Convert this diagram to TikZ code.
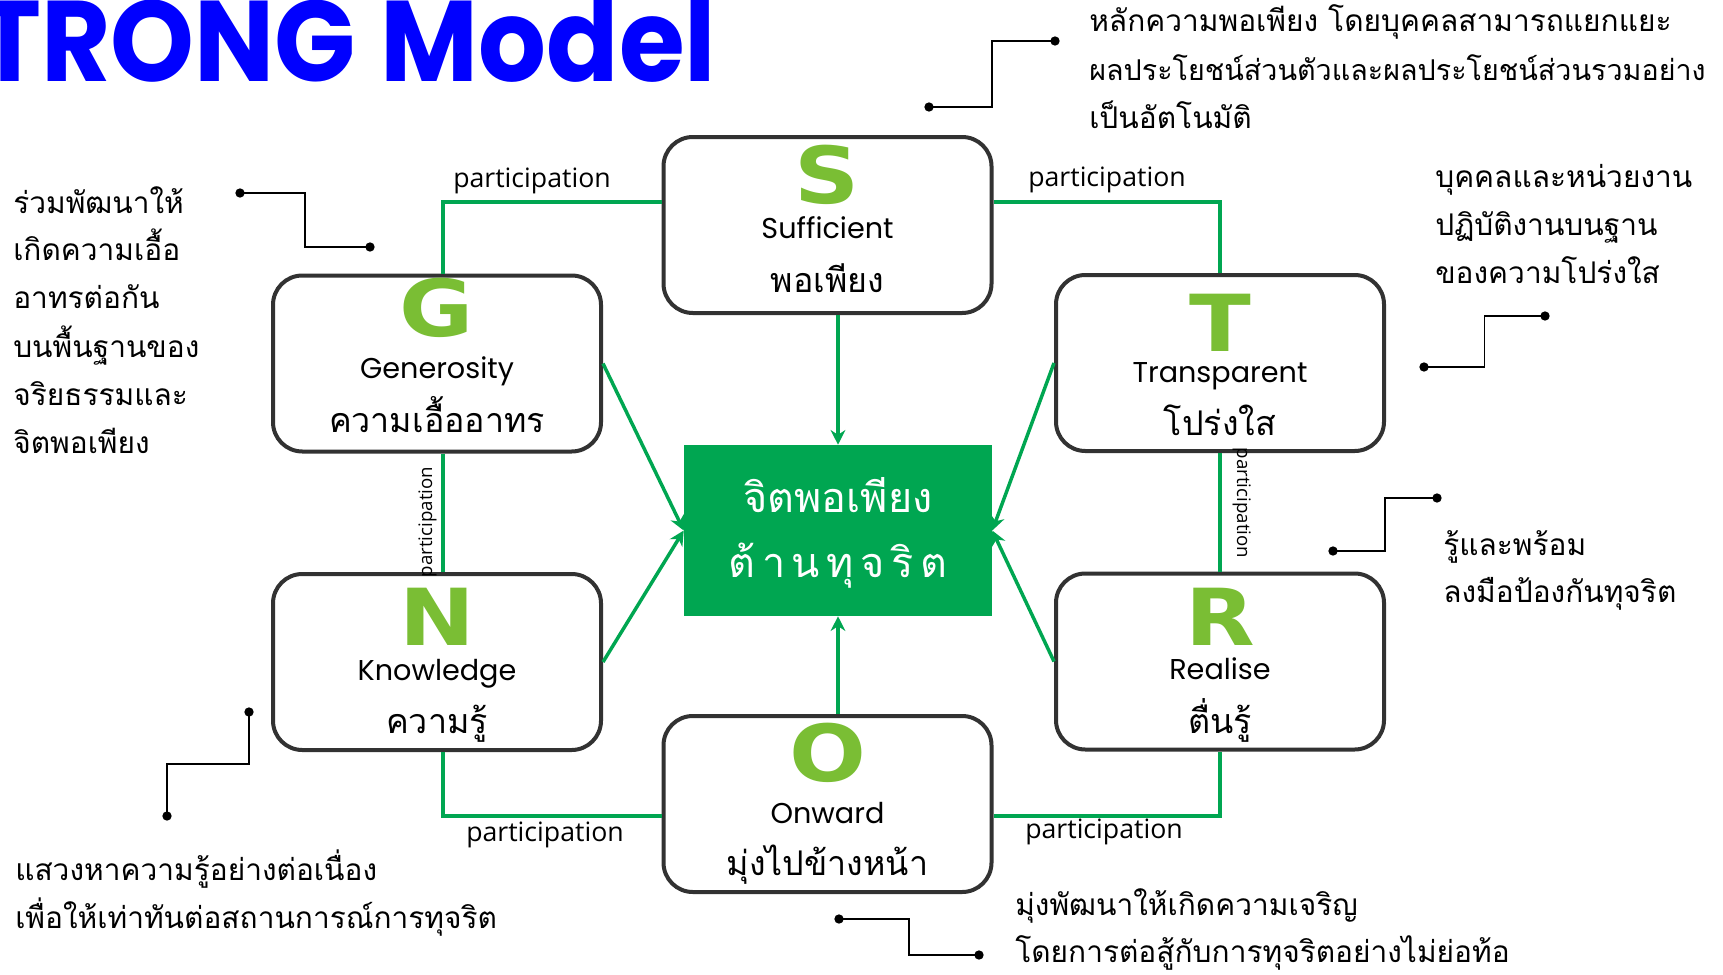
\documentclass[tikz,border=0pt]{standalone}
\usepackage{fontspec}
\setmainfont{Poppins}
\newfontfamily\thaifont[Script=Thai]{Loma}
\newfontfamily\letterfont{DejaVu Sans}
\newfontfamily\labelfont{Open Sans}
\newfontfamily\titlefont{Poppins}
\usetikzlibrary{arrows.meta,calc}
\definecolor{sgreen}{RGB}{0,166,81}
\definecolor{lgreen}{RGB}{122,190,52}
\definecolor{boxline}{RGB}{50,50,50}
\definecolor{tblue}{RGB}{0,0,255}
\begin{document}
\begin{tikzpicture}[x=0.75pt,y=-0.75pt,
  card/.style={draw=boxline,line width=3pt,rounded corners=22pt,fill=white,minimum width=246pt,minimum height=132pt,inner sep=0pt},
  core/.style={fill=sgreen,minimum width=231pt,minimum height=128.25pt,inner sep=0pt},
  bigl/.style={font=\letterfont\bfseries\fontsize{59}{59}\selectfont,text=lgreen,anchor=base,inner sep=0pt,xscale=1.15},
  eng/.style={font=\fontsize{21.5}{21.5}\selectfont,anchor=base,inner sep=0pt},
  tha/.style={font=\thaifont\fontsize{25.5}{25.5}\selectfont,anchor=base,inner sep=0pt},
  ctha/.style={font=\thaifont\fontsize{31}{31}\selectfont,text=white,anchor=base,inner sep=0pt},
  ann/.style={font=\thaifont\fontsize{22.4}{22.4}\selectfont,anchor=base west,inner sep=0pt},
  part/.style={font=\labelfont\fontsize{20}{20}\selectfont,anchor=base,inner sep=0pt},
  vpart/.style={font=\labelfont\fontsize{14}{14}\selectfont,anchor=base,inner sep=0pt},
  link/.style={draw=sgreen,line width=2.6pt},
  arr/.style={link,-{Stealth[length=11pt,width=11pt]}},
  callout/.style={draw=black,line width=1.1pt},
  dot/.style={circle,fill=black,inner sep=0pt,minimum size=7pt}
]
\fill[white] (0,0) rectangle (1723,974);
\useasboundingbox (0,0) rectangle (1723,974);

% title
\node[font=\titlefont\bfseries\fontsize{86}{86}\selectfont,text=tblue,anchor=base west,inner sep=0pt,xscale=0.93] (title) at (-22,82) {TRONG\hspace{20pt}Model};

% boxes
\node[card] (S) at (827.5,225) {};
\node[card] (G) at (437,363.5) {};
\node[card] (T) at (1220,363) {};
\node[card] (N) at (437,662) {};
\node[card] (R) at (1220,661.5) {};
\node[card] (O) at (827.5,804) {};
\node[core] (C) at (838,530.5) {};

% box contents
\node[bigl] (Sl) at (827.5,203) {S};
\node[eng] (Se) at (827.5,238) {Sufficient};
\node[tha] (St) at (827.5,292) {พอเพียง};
\node[bigl] (Gl) at (437,336) {G};
\node[eng] (Ge) at (437,378) {Generosity};
\node[tha] (Gt) at (437,432) {ความเอื้ออาทร};
\node[bigl] (Tl) at (1220,351) {T};
\node[eng] (Te) at (1220,382) {Transparent};
\node[tha] (Tt) at (1220,435) {โปร่งใส};
\node[bigl] (Nl) at (437,645) {N};
\node[eng] (Ne) at (437,680) {Knowledge};
\node[tha] (Nt) at (437,733) {ความรู้};
\node[bigl] (Rl) at (1220,645) {R};
\node[eng] (Re) at (1220,679) {Realise};
\node[tha] (Rt) at (1220,733) {ตื่นรู้};
\node[bigl] (Ol) at (827.5,781) {O};
\node[eng] (Oe) at (827.5,823) {Onward};
\node[tha] (Ot) at (827.5,875) {มุ่งไปข้างหน้า};

% core text
\node[ctha] (C1) at (838,512) {จิตพอเพียง};
\node[ctha] (C2) at (838,577) {ต้\kern5pt า\kern5pt น\kern5pt ทุ\kern5pt จ\kern5pt ริ\kern5pt ต};

% participation links
\coordinate (Gtop) at ($(G.north)+(6,0)$);
\coordinate (Gbot) at ($(G.south)+(6,0)$);
\coordinate (Ntop) at ($(N.north)+(6,0)$);
\coordinate (Nbot) at ($(N.south)+(6,0)$);
\draw[link] (S.west |- 0,202) -| (Gtop);
\draw[link] (S.east |- 0,202) -| (T.north);
\draw[link] (Gbot) -- (Ntop);
\draw[link] (T.south) -- (R.north);
\draw[link] (Nbot) |- (O.west |- 0,816);
\draw[link] (R.south) |- (O.east |- 0,816);

% arrows to the core
\draw[arr] (S.south -| C.north) -- (C.north);
\draw[arr] (O.north -| C.south) -- (C.south);
\draw[arr] (G.east) -- (C.west);
\draw[arr] (N.east) -- (C.west);
\draw[arr] (T.west) -- (C.east);
\draw[arr] (R.west) -- (C.east);

% participation labels
\node[part] (p1) at (532,187) {participation};
\node[part] (p2) at (1107,186) {participation};
\node[part] (p3) at (545,841) {participation};
\node[part] (p4) at (1104,838) {participation};
\node[vpart,rotate=90] (p5) at (432,522) {participation};
\node[vpart,rotate=-90] (p6) at (1237,503) {participation};

% callouts
\node[dot] (d1a) at (1055,41) {};
\node[dot] (d1b) at (929,107) {};
\draw[callout] (d1a.center) -| ($(d1a)!0.5!(d1b)$) |- (d1b.center);
\node[dot] (d2a) at (240,193) {};
\node[dot] (d2b) at (370,247) {};
\draw[callout] (d2a.center) -| ($(d2a)!0.5!(d2b)$) |- (d2b.center);
\node[dot] (d3a) at (1545,316) {};
\node[dot] (d3b) at (1424,367) {};
\draw[callout] (d3a.center) -| ($(d3a)!0.5!(d3b)$) |- (d3b.center);
\node[dot] (d4a) at (1437,498) {};
\node[dot] (d4b) at (1333,551) {};
\draw[callout] (d4a.center) -| ($(d4a)!0.5!(d4b)$) |- (d4b.center);
\node[dot] (d5a) at (249,712) {};
\node[dot] (d5b) at (167,816) {};
\draw[callout] (d5a.center) |- ($(d5a)!0.5!(d5b)$) -| (d5b.center);
\node[dot] (d6a) at (839,919) {};
\node[dot] (d6b) at (979,955) {};
\draw[callout] (d6a.center) -| ($(d6a)!0.5!(d6b)$) |- (d6b.center);

% annotations
\node[ann] (a1a) at (1089,32) {หลักความพอเพียง โดยบุคคลสามารถแยกแยะ};
\node[ann,font=\thaifont\fontsize{21.5}{21.5}\selectfont] (a1b) at (1089,80) {ผลประโยชน์ส่วนตัวและผลประโยชน์ส่วนรวมอย่าง};
\node[ann] (a1c) at (1089,128) {เป็นอัตโนมัติ};
\node[ann] (a2a) at (13,213) {ร่วมพัฒนาให้};
\node[ann] (a2b) at (13,260) {เกิดความเอื้อ};
\node[ann] (a2c) at (13,308) {อาทรต่อกัน};
\node[ann] (a2d) at (13,357) {บนพื้นฐานของ};
\node[ann] (a2e) at (13,405) {จริยธรรมและ};
\node[ann] (a2f) at (13,453) {จิตพอเพียง};
\node[ann] (a3a) at (1435,187) {บุคคลและหน่วยงาน};
\node[ann] (a3b) at (1435,235) {ปฏิบัติงานบนฐาน};
\node[ann] (a3c) at (1435,283) {ของความโปร่งใส};
\node[ann] (a4a) at (1443,555) {รู้และพร้อม};
\node[ann] (a4b) at (1443,602) {ลงมือป้องกันทุจริต};
\node[ann] (a5a) at (15,880) {แสวงหาความรู้อย่างต่อเนื่อง};
\node[ann] (a5b) at (15,928) {เพื่อให้เท่าทันต่อสถานการณ์การทุจริต};
\node[ann] (a6a) at (1015,915) {มุ่งพัฒนาให้เกิดความเจริญ};
\node[ann] (a6b) at (1015,962) {โดยการต่อสู้กับการทุจริตอย่างไม่ย่อท้อ};
\end{tikzpicture}
\end{document}
